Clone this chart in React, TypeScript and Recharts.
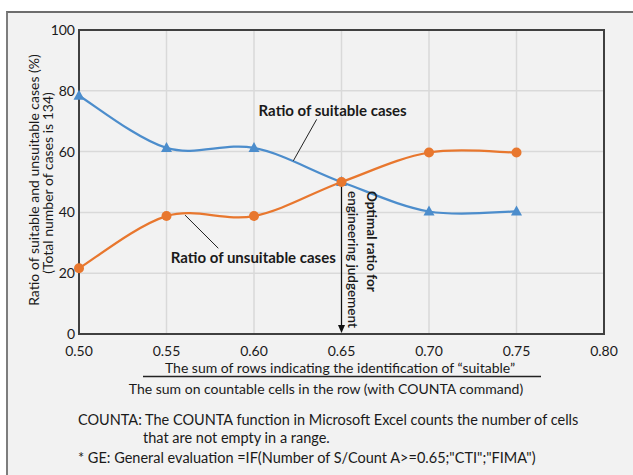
import React from "react";
import { LineChart, Line, XAxis, YAxis, CartesianGrid, ReferenceArea, ReferenceLine } from "recharts";

const ratioX = [0.5, 0.55, 0.6, 0.65, 0.7, 0.75];
const suitable = [78.4, 61.2, 61.2, 50, 40.3, 40.3];
const unsuitable = [21.6, 38.8, 38.8, 50, 59.7, 59.7];
const xTicks = [0.5, 0.55, 0.6, 0.65, 0.7, 0.75, 0.8];
const yTicks = [0, 20, 40, 60, 80, 100];

const data = ratioX.map((x, i) => ({ x, suitable: suitable[i], unsuitable: unsuitable[i] }));

const BLUE = "#4c8dcc";
const ORANGE = "#e8772e";
const FONT = "Lato, 'Open Sans', sans-serif";
const TXT = "#1a1a1a";

// Excel-like smoothed line (cardinal bezier, 1/6 tangents)
function excelCurve(context: any) {
  let pts: number[][] = [];
  return {
    areaStart() {},
    areaEnd() {},
    lineStart() {
      pts = [];
    },
    point(x: number, y: number) {
      pts.push([+x, +y]);
    },
    lineEnd() {
      if (!pts.length) return;
      context.moveTo(pts[0][0], pts[0][1]);
      for (let i = 0; i < pts.length - 1; i++) {
        const p0 = pts[i - 1] || pts[i];
        const p1 = pts[i];
        const p2 = pts[i + 1];
        const p3 = pts[i + 2] || pts[i + 1];
        context.bezierCurveTo(
          p1[0] + (p2[0] - p0[0]) / 6,
          p1[1] + (p2[1] - p0[1]) / 6,
          p2[0] - (p3[0] - p1[0]) / 6,
          p2[1] - (p3[1] - p1[1]) / 6,
          p2[0],
          p2[1]
        );
      }
    },
  };
}

const Triangle = (props: any) => {
  const { cx, cy } = props;
  if (cx == null || cy == null) return null;
  return <polygon points={`${cx},${cy - 6} ${cx - 5.5},${cy + 4} ${cx + 5.5},${cy + 4}`} fill={BLUE} />;
};

const Circle = (props: any) => {
  const { cx, cy } = props;
  if (cx == null || cy == null) return null;
  return <circle cx={cx} cy={cy} r={5} fill={ORANGE} />;
};

const suitableLeader = (p: any) => (
  <g>
    <line x1={p.x1} y1={p.y1} x2={p.x2} y2={p.y2} stroke="#222" strokeWidth={1} />
    <text x={p.x1 + 16} y={p.y1 - 9} textAnchor="middle" dominantBaseline="central" fontFamily={FONT} fontWeight={700} fontSize={15} fill={TXT}>
      Ratio of suitable cases
    </text>
  </g>
);

const unsuitableLeader = (p: any) => (
  <g>
    <line x1={p.x1} y1={p.y1} x2={p.x2} y2={p.y2} stroke="#222" strokeWidth={1} />
    <text x={p.x2 + 35} y={p.y2 + 8.5} textAnchor="middle" dominantBaseline="central" fontFamily={FONT} fontWeight={700} fontSize={15} fill={TXT}>
      Ratio of unsuitable cases
    </text>
  </g>
);

const optimalArrow = (p: any) => {
  const x = p.x1;
  const top = p.y1;
  const bot = p.y2;
  return (
    <g>
      <line x1={x} y1={top} x2={x} y2={bot - 8} stroke="#111" strokeWidth={1.2} />
      <polygon points={`${x - 3.5},${bot - 9} ${x + 3.5},${bot - 9} ${x},${bot - 1}`} fill="#111" />
      <text transform={`translate(${x + 30},${top + 9}) rotate(90)`} x={0} y={0} textAnchor="start" dominantBaseline="central" fontFamily={FONT} fontWeight={700} fontSize={13.5} fill={TXT}>
        Optimal ratio for
      </text>
      <text transform={`translate(${x + 11},${top + 9}) rotate(90)`} x={0} y={0} textAnchor="start" dominantBaseline="central" fontFamily={FONT} fontWeight={600} fontSize={13.5} fill={TXT}>
        engineering judgement
      </text>
    </g>
  );
};

export default function App() {
  return (
    <div style={{ position: "absolute", left: 0, top: 0, width: 633, height: 475, background: "#fff", overflow: "hidden" }}>
      <div
        style={{
          position: "absolute",
          left: 6,
          top: 11,
          width: 633,
          height: 475,
          background: "#f2f2f2",
          borderLeft: "2px solid #7d7d7d",
          borderTop: "2px solid #6d6d6d",
        }}
      />
      <div style={{ position: "absolute", left: 0, top: 0 }}>
        <LineChart width={633} height={475} data={data} margin={{ top: 30, right: 29, bottom: 111, left: 0 }}>
          <CartesianGrid stroke="#d9d9d9" strokeWidth={1.5} />
          <XAxis
            dataKey="x"
            type="number"
            domain={[0.5, 0.8]}
            ticks={xTicks}
            interval={0}
            tickFormatter={(v: number) => v.toFixed(2)}
            tickLine={false}
            tickSize={0}
            tickMargin={12}
            height={30}
            axisLine={{ stroke: "#404040", strokeWidth: 2 }}
            tick={{ fill: TXT, fontSize: 14, fontFamily: FONT }}
          />
          <YAxis
            type="number"
            domain={[0, 100]}
            ticks={yTicks}
            interval={0}
            width={79}
            tickLine={false}
            tickSize={0}
            tickMargin={4}
            axisLine={{ stroke: "#404040", strokeWidth: 2 }}
            tick={{ fill: TXT, fontSize: 14, fontFamily: FONT }}
          />
          <ReferenceArea x1={0.5} x2={0.8} y1={0} y2={100} fill="none" stroke="#404040" strokeWidth={2} ifOverflow="visible" />
          <Line dataKey="suitable" type={excelCurve as any} stroke={BLUE} strokeWidth={2.25} dot={<Triangle />} activeDot={false} isAnimationActive={false} />
          <Line dataKey="unsuitable" type={excelCurve as any} stroke={ORANGE} strokeWidth={2.25} dot={<Circle />} activeDot={false} isAnimationActive={false} />
          <ReferenceLine segment={[{ x: 0.6358, y: 70.6 }, { x: 0.6225, y: 57.0 }]} shape={suitableLeader} ifOverflow="visible" />
          <ReferenceLine segment={[{ x: 0.5606, y: 39.1 }, { x: 0.5796, y: 28.2 }]} shape={unsuitableLeader} ifOverflow="visible" />
          <ReferenceLine segment={[{ x: 0.65, y: 50 }, { x: 0.65, y: 0 }]} shape={optimalArrow} ifOverflow="visible" />
        </LineChart>
      </div>
      <svg width={633} height={475} style={{ position: "absolute", left: 0, top: 0, pointerEvents: "none" }}>
        <g fontFamily={FONT} fill={TXT} fontSize={14}>
          <text transform="translate(33,180) rotate(-90)" textAnchor="middle" dominantBaseline="central">
            Ratio of suitable and unsuitable cases (%)
          </text>
          <text transform="translate(47.5,183) rotate(-90)" textAnchor="middle" dominantBaseline="central">
            (Total number of cases is 134)
          </text>
          <text x={340} y={367} textAnchor="middle" dominantBaseline="central">
            The sum of rows indicating the identification of “suitable”
          </text>
          <line x1={143} y1={376.5} x2={541} y2={376.5} stroke="#222" strokeWidth={1.5} />
          <text x={326} y={388.5} textAnchor="middle" dominantBaseline="central">
            The sum on countable cells in the row (with COUNTA command)
          </text>
          <text x={78} y={419} dominantBaseline="central" fontSize={14.5}>
            COUNTA: The COUNTA function in Microsoft Excel counts the number of cells
          </text>
          <text x={143} y={437} dominantBaseline="central" fontSize={14.5}>
            that are not empty in a range.
          </text>
          <text x={78} y={457} dominantBaseline="central" fontSize={14.5}>
            * GE: General evaluation =IF(Number of S/Count A&gt;=0.65;"CTI";"FIMA")
          </text>
        </g>
      </svg>
    </div>
  );
}
